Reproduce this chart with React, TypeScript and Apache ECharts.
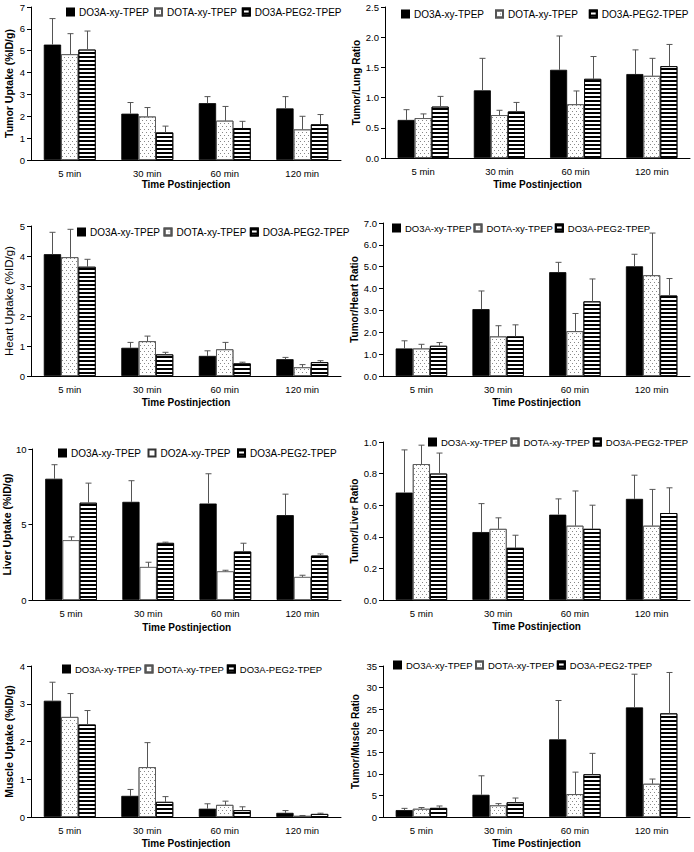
import React, { useEffect, useRef } from 'react';
import * as echarts from 'echarts';

const FONT = 'Arial, "Liberation Sans", sans-serif';

const categories = ['5 min', '30 min', '60 min', '120 min'];
const seriesNames = ['DO3A-xy-TPEP', 'DOTA-xy-TPEP', 'DO3A-PEG2-TPEP'];
const liverSeriesNames = ['DO3A-xy-TPEP', 'DO2A-xy-TPEP', 'DO3A-PEG2-TPEP'];
const xAxisTitle = 'Time Postinjection';

// Tumor uptake (%ID/g)
const tumorMean = [[5.28, 2.12, 2.6, 2.36], [4.84, 1.99, 1.8, 1.4], [5.05, 1.26, 1.46, 1.63]];
const tumorSd = [[1.19, 0.51, 0.3, 0.54], [0.94, 0.41, 0.65, 0.6], [0.85, 0.29, 0.31, 0.45]];
// Tumor/Lung ratio
const tumorLungMean = [[0.63, 1.12, 1.46, 1.39], [0.66, 0.71, 0.89, 1.36], [0.85, 0.77, 1.31, 1.52]];
const tumorLungSd = [[0.17, 0.53, 0.56, 0.4], [0.07, 0.08, 0.22, 0.29], [0.17, 0.15, 0.37, 0.36]];
// Heart uptake
const heartMean = [[4.06, 0.94, 0.67, 0.56], [3.96, 1.16, 0.89, 0.29], [3.64, 0.72, 0.42, 0.46]];
const heartSd = [[0.73, 0.18, 0.17, 0.06], [0.93, 0.17, 0.23, 0.09], [0.25, 0.07, 0.04, 0.05]];
// Tumor/Heart ratio
const tumorHeartMean = [[1.26, 3.06, 4.75, 5.02], [1.26, 1.81, 2.05, 4.61], [1.38, 1.81, 3.41, 3.68]];
const tumorHeartSd = [[0.35, 0.83, 0.45, 0.55], [0.19, 0.49, 0.81, 1.93], [0.15, 0.53, 1.03, 0.78]];
// Liver uptake
const liverMean = [[8.03, 6.5, 6.39, 5.62], [3.96, 2.19, 1.9, 1.53], [6.44, 3.78, 3.21, 2.94]];
const liverSd = [[0.93, 1.4, 1.97, 1.39], [0.22, 0.31, 0.07, 0.11], [1.3, 0.05, 0.55, 0.11]];
// Tumor/Liver ratio
const tumorLiverMean = [[0.68, 0.43, 0.54, 0.64], [0.86, 0.45, 0.47, 0.47], [0.8, 0.33, 0.45, 0.55]];
const tumorLiverSd = [[0.27, 0.18, 0.1, 0.15], [0.12, 0.07, 0.22, 0.23], [0.13, 0.08, 0.15, 0.16]];
// Muscle uptake
const muscleMean = [[3.08, 0.56, 0.22, 0.11], [2.65, 1.32, 0.32, 0.03], [2.45, 0.4, 0.18, 0.08]];
const muscleSd = [[0.49, 0.17, 0.13, 0.06], [0.62, 0.65, 0.1, 0.01], [0.37, 0.14, 0.09, 0.02]];
// Tumor/Muscle ratio
const tumorMuscleMean = [[1.6, 5.15, 18.0, 25.4], [1.9, 2.7, 5.3, 7.7], [2.1, 3.4, 9.9, 24.0]];
const tumorMuscleSd = [[0.4, 4.4, 9.0, 7.7], [0.3, 0.4, 5.1, 1.1], [0.45, 1.0, 4.85, 9.5]];

type Panel = {
  yName: string; names: string[]; mean: number[][]; sd: number[][];
  max: number; interval: number; decimals: number; plainSecond?: boolean; boldY?: boolean; yNameSize: number;
  grid: { left: number; top: number; width: number; height: number };
  legend: { left: number; top: number; gap: number; size: number };
  yGap: number; xGap: number;
};

const panels: Panel[] = [
  { yName: 'Tumor Uptake (%ID/g)', names: seriesNames, mean: tumorMean, sd: tumorSd, max: 7, interval: 1, decimals: 0, yNameSize: 10.5,
    grid: { left: 31, top: 7, width: 310, height: 153 }, legend: { left: 66, top: 7, gap: 5, size: 10 }, yGap: 17, xGap: 19 },
  { yName: 'Tumor/Lung Ratio', names: seriesNames, mean: tumorLungMean, sd: tumorLungSd, max: 2.5, interval: 0.5, decimals: 1, yNameSize: 10,
    grid: { left: 385, top: 7, width: 305, height: 151 }, legend: { left: 401, top: 9, gap: 11, size: 10 }, yGap: 23, xGap: 21 },
  { yName: 'Heart Uptake (%ID/g)', names: seriesNames, mean: heartMean, sd: heartSd, max: 5, interval: 1, decimals: 0, boldY: false, yNameSize: 11.5,
    grid: { left: 31, top: 226, width: 310, height: 150 }, legend: { left: 77, top: 227, gap: 3.5, size: 10 }, yGap: 16, xGap: 21 },
  { yName: 'Tumor/Heart Ratio', names: seriesNames, mean: tumorHeartMean, sd: tumorHeartSd, max: 7, interval: 1, decimals: 1, yNameSize: 10,
    grid: { left: 383, top: 223, width: 307, height: 153 }, legend: { left: 392, top: 223, gap: 2, size: 9.5 }, yGap: 23, xGap: 21 },
  { yName: 'Liver Uptake (%ID/g)', names: liverSeriesNames, mean: liverMean, sd: liverSd, max: 10, interval: 5, decimals: 0, plainSecond: true, yNameSize: 10.5,
    grid: { left: 31, top: 449, width: 310, height: 151 }, legend: { left: 58, top: 448, gap: 6.5, size: 10 }, yGap: 17, xGap: 22 },
  { yName: 'Tumor/Liver Ratio', names: seriesNames, mean: tumorLiverMean, sd: tumorLiverSd, max: 1, interval: 0.2, decimals: 1, yNameSize: 10,
    grid: { left: 383, top: 442, width: 307, height: 158 }, legend: { left: 428, top: 437, gap: 3, size: 9.5 }, yGap: 23, xGap: 21 },
  { yName: 'Muscle Uptake (%ID/g)', names: seriesNames, mean: muscleMean, sd: muscleSd, max: 4, interval: 1, decimals: 0, yNameSize: 10.5,
    grid: { left: 31, top: 666, width: 310, height: 151 }, legend: { left: 62, top: 664, gap: 3, size: 9.5 }, yGap: 17, xGap: 21 },
  { yName: 'Tumor/Muscle Ratio', names: seriesNames, mean: tumorMuscleMean, sd: tumorMuscleSd, max: 35, interval: 5, decimals: 0, yNameSize: 10,
    grid: { left: 383, top: 666, width: 307, height: 151 }, legend: { left: 393, top: 660, gap: 2.5, size: 9.5 }, yGap: 23, xGap: 21 },
];

const GAP = 0.33;

const dotDecal = {
  symbol: 'rect', symbolSize: 1, color: '#888',
  dashArrayX: [[1, 3], [0, 2, 1, 1]], dashArrayY: [1, 2],
};
const stripeDecal = {
  symbol: 'rect', symbolSize: 1, color: '#000',
  dashArrayX: [1, 0], dashArrayY: [2, 2],
};

function barStyle(k: number, plain: boolean) {
  if (k === 0) return { color: '#000', borderColor: '#000', borderWidth: 0.8 };
  if (k === 1) return plain
    ? { color: '#fff', borderColor: '#333', borderWidth: 0.8 }
    : { color: '#fff', borderColor: '#555', borderWidth: 0.8, decal: dotDecal };
  return { color: '#fff', borderColor: '#000', borderWidth: 0.8, decal: stripeDecal };
}

export default function App() {
  const ref = useRef<HTMLDivElement>(null);
  useEffect(() => {
    if (!ref.current) return;
    const chart = echarts.init(ref.current, undefined, { renderer: 'svg' });
    const grid: any[] = [];
    const xAxis: any[] = [];
    const yAxis: any[] = [];
    const legend: any[] = [];
    const series: any[] = [];
    panels.forEach((p, gi) => {
      grid.push({ ...p.grid, containLabel: false });
      xAxis.push({
        type: 'category', gridIndex: gi, data: categories,
        axisLine: { lineStyle: { color: '#000', width: 1 } },
        axisTick: { alignWithLabel: false, length: 4, lineStyle: { color: '#000' } },
        axisLabel: { color: '#000', fontSize: 9.5, fontFamily: FONT, margin: 8 },
        name: xAxisTitle, nameLocation: 'middle', nameGap: p.xGap,
        nameTextStyle: { color: '#000', fontSize: 10, fontWeight: 'bold', fontFamily: FONT },
      });
      yAxis.push({
        type: 'value', gridIndex: gi, min: 0, max: p.max, interval: p.interval,
        splitLine: { show: false },
        axisLine: { show: true, lineStyle: { color: '#000', width: 1 } },
        axisTick: { show: true, length: 4, lineStyle: { color: '#000' } },
        axisLabel: { color: '#000', fontSize: 9.5, fontFamily: FONT, margin: 6,
          formatter: (v: number) => v.toFixed(p.decimals) },
        name: p.yName, nameLocation: 'middle', nameGap: p.yGap, nameRotate: 90,
        nameTextStyle: { color: '#000', fontSize: p.yNameSize, fontWeight: p.boldY === false ? 'normal' : 'bold', fontFamily: FONT },
      });
      legend.push({
        left: p.legend.left, top: p.legend.top, width: 330, padding: 0, itemGap: p.legend.gap,
        itemWidth: 7, itemHeight: 7, icon: 'rect', data: p.names, orient: 'horizontal',
        textStyle: { color: '#000', fontSize: p.legend.size, fontFamily: FONT },
        selectedMode: false,
      });
      p.names.forEach((name, k) => {
        series.push({
          type: 'bar', name, xAxisIndex: gi, yAxisIndex: gi,
          data: p.mean[k], barGap: '0%', barCategoryGap: `${GAP * 100}%`,
          itemStyle: barStyle(k, !!p.plainSecond),
          emphasis: { disabled: true },
        });
      });
      p.names.forEach((name, k) => {
        series.push({
          type: 'custom', name: `err-${gi}-${k}`, xAxisIndex: gi, yAxisIndex: gi, z: 10,
          data: categories.map((_, i) => [i, p.mean[k][i], p.mean[k][i] + p.sd[k][i]]),
          encode: { x: 0, y: [1, 2] },
          renderItem: (params: any, api: any) => {
            const i = api.value(0);
            const m = api.value(1);
            const t = api.value(2);
            const p0 = api.coord([i, m]);
            const p1 = api.coord([i, t]);
            const band = api.size([1, 0])[0];
            const bw = (band * (1 - GAP)) / 3;
            const x = Math.round(p0[0] + (k - 1) * bw) + 0.5;
            const st = { stroke: '#555', lineWidth: 1 };
            return {
              type: 'group',
              children: [
                { type: 'line', shape: { x1: x, y1: p0[1], x2: x, y2: p1[1] }, style: st },
                { type: 'line', shape: { x1: x - 3, y1: p1[1], x2: x + 3, y2: p1[1] }, style: st },
              ],
            };
          },
        });
      });
    });
    chart.setOption({
      animation: false,
      backgroundColor: '#fff',
      textStyle: { fontFamily: FONT },
      grid, xAxis, yAxis, legend, series,
    });
    return () => chart.dispose();
  }, []);
  return <div ref={ref} style={{ position: 'absolute', left: 0, top: 0, width: 694, height: 852 }} />;
}
